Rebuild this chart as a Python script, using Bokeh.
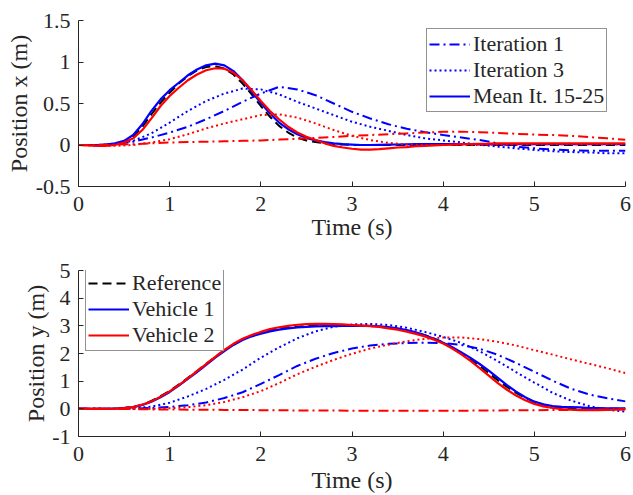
from bokeh.plotting import figure
from bokeh.layouts import column, row
from bokeh.models import Range1d, FixedTicker, CustomJSTickFormatter, Legend, LegendItem
from bokeh.embed import file_html
from bokeh.resources import INLINE

# time grids (s)
t = [round(0.2 * i, 1) for i in range(31)]        # iteration curves
tf = [round(0.1 * i, 1) for i in range(61)]       # reference and mean curves

# ---- Position x (m) ----
ref_x = [0, 0, 0, 0, 0.01, 0.04, 0.10, 0.22, 0.37, 0.51,
         0.63, 0.74, 0.83, 0.90, 0.94, 0.95, 0.92, 0.85, 0.74, 0.61,
         0.47, 0.34, 0.23, 0.15, 0.09, 0.055, 0.035, 0.02, 0.01, 0.005,
         0, 0, 0, 0, 0, 0, 0, 0, 0, 0,
         0, 0, 0, 0, 0, 0, 0, 0, 0, 0,
         0, 0, 0, 0, 0, 0, 0, 0, 0, 0, 0]
v1_mean_x = [0, 0, 0, 0.005, 0.02, 0.05, 0.12, 0.25, 0.41, 0.55,
             0.66, 0.75, 0.84, 0.91, 0.96, 0.98, 0.96, 0.89, 0.78, 0.64,
             0.51, 0.38, 0.27, 0.19, 0.13, 0.085, 0.055, 0.035, 0.02, 0.01,
             0.005, 0.0, 0.0, 0.002, 0.004, 0.006, 0.008, 0.01, 0.01, 0.01,
             0.01, 0.01, 0.01, 0.01, 0.01, 0.01, 0.01, 0.01, 0.01, 0.01,
             0.01, 0.01, 0.01, 0.01, 0.01, 0.01, 0.01, 0.01, 0.01, 0.01, 0.01]
v2_mean_x = [0, -0.005, -0.01, -0.01, 0.0, 0.03, 0.08, 0.18, 0.32, 0.47,
             0.59, 0.69, 0.78, 0.85, 0.90, 0.925, 0.92, 0.87, 0.78, 0.66,
             0.53, 0.41, 0.31, 0.22, 0.15, 0.10, 0.06, 0.02, -0.01, -0.03,
             -0.045, -0.055, -0.055, -0.05, -0.04, -0.03, -0.025, -0.015, -0.01, -0.005,
             0.0, 0.005, 0.01, 0.012, 0.015, 0.017, 0.02, 0.02, 0.02, 0.02,
             0.02, 0.02, 0.02, 0.02, 0.02, 0.02, 0.02, 0.02, 0.02, 0.02, 0.02]
v1_it1_x = [0, 0, 0.01, 0.04, 0.09, 0.15, 0.22, 0.31, 0.41, 0.52, 0.62, 0.70, 0.67, 0.60, 0.50, 0.40,
            0.32, 0.25, 0.195, 0.155, 0.12, 0.09, 0.06, 0.02, -0.02, -0.04, -0.055, -0.065, -0.07, -0.07, -0.07]
v1_it3_x = [0, 0, 0.01, 0.05, 0.14, 0.27, 0.41, 0.53, 0.62, 0.68, 0.67, 0.61, 0.52, 0.44, 0.36, 0.28,
            0.22, 0.17, 0.12, 0.08, 0.055, 0.03, 0.005, -0.02, -0.04, -0.06, -0.075, -0.085, -0.09, -0.10, -0.10]
v2_it1_x = [0, 0, 0.005, 0.01, 0.02, 0.03, 0.035, 0.04, 0.045, 0.05, 0.055, 0.065, 0.075, 0.085, 0.096, 0.11,
            0.12, 0.13, 0.14, 0.15, 0.16, 0.16, 0.155, 0.145, 0.135, 0.125, 0.12, 0.11, 0.095, 0.08, 0.064]
v2_it3_x = [0, -0.01, -0.01, 0.0, 0.03, 0.07, 0.13, 0.20, 0.26, 0.31, 0.36, 0.37, 0.33, 0.26, 0.18, 0.11,
            0.06, 0.025, 0.008, 0.0, 0.0, 0.0, 0.0, 0.005, 0.005, 0.01, 0.01, 0.01, 0.01, 0.01, 0.01]

# ---- Position y (m) ----
ref_y = [0, 0, 0, 0, 0.01, 0.03, 0.07, 0.15, 0.29, 0.46,
         0.65, 0.88, 1.12, 1.37, 1.63, 1.88, 2.12, 2.33, 2.52, 2.65,
         2.76, 2.84, 2.90, 2.94, 2.97, 2.99, 3.0, 3.0, 3.0, 3.0,
         3.0, 3.0, 2.99, 2.97, 2.93, 2.89, 2.83, 2.75, 2.66, 2.54,
         2.40, 2.22, 2.02, 1.79, 1.55, 1.29, 1.03, 0.79, 0.58, 0.40,
         0.25, 0.15, 0.08, 0.04, 0.02, 0.01, 0.0, 0.0, 0.0, 0.0, 0.0]
v1_mean_y = [0, 0, 0, 0, 0.01, 0.03, 0.06, 0.14, 0.26, 0.42,
             0.61, 0.84, 1.08, 1.33, 1.59, 1.85, 2.09, 2.31, 2.49, 2.62,
             2.72, 2.80, 2.86, 2.91, 2.94, 2.96, 2.98, 2.99, 2.99, 3.0,
             3.0, 3.0, 3.0, 2.98, 2.95, 2.91, 2.85, 2.77, 2.66, 2.53,
             2.39, 2.23, 2.04, 1.84, 1.62, 1.38, 1.12, 0.86, 0.62, 0.42,
             0.26, 0.16, 0.10, 0.07, 0.06, 0.05, 0.03, 0.03, 0.02, 0.02, 0.02]
v2_mean_y = [0, 0, 0, 0, 0.01, 0.03, 0.06, 0.15, 0.27, 0.44,
             0.63, 0.86, 1.10, 1.36, 1.62, 1.88, 2.13, 2.35, 2.53, 2.67,
             2.78, 2.88, 2.95, 3.0, 3.04, 3.06, 3.07, 3.07, 3.06, 3.05,
             3.03, 3.01, 2.99, 2.96, 2.91, 2.86, 2.79, 2.71, 2.62, 2.50,
             2.36, 2.18, 1.97, 1.73, 1.47, 1.20, 0.93, 0.69, 0.48, 0.31,
             0.18, 0.09, 0.03, -0.01, -0.03, -0.045, -0.05, -0.05, -0.04, -0.03, -0.02]
v1_it1_y = [0, 0, 0, 0.01, 0.03, 0.07, 0.13, 0.23, 0.39, 0.60, 0.90, 1.22, 1.55, 1.81, 2.02, 2.18,
            2.29, 2.35, 2.38, 2.39, 2.38, 2.31, 2.17, 1.95, 1.66, 1.34, 1.02, 0.73, 0.52, 0.38, 0.27]
v1_it3_y = [0, 0, 0, 0.02, 0.08, 0.22, 0.45, 0.72, 1.05, 1.42, 1.85, 2.22, 2.55, 2.80, 2.97, 3.05,
            3.07, 3.03, 2.93, 2.78, 2.60, 2.38, 2.08, 1.72, 1.33, 0.95, 0.58, 0.30, 0.10, -0.03, -0.10]
v2_it1_y = [0, 0, -0.01, -0.01, -0.02, -0.02, -0.03, -0.03, -0.04, -0.04, -0.05, -0.05, -0.06, -0.06, -0.06, -0.07,
            -0.07, -0.07, -0.07, -0.07, -0.07, -0.07, -0.06, -0.06, -0.05, -0.05, -0.04, -0.04, -0.03, -0.02, -0.01]
v2_it3_y = [0, 0, -0.01, -0.01, 0.0, 0.02, 0.06, 0.13, 0.25, 0.42, 0.64, 0.93, 1.25, 1.52, 1.77, 1.99,
            2.18, 2.32, 2.44, 2.53, 2.58, 2.58, 2.52, 2.42, 2.29, 2.12, 1.96, 1.79, 1.63, 1.47, 1.29]

x_ticks = [0, 1, 2, 3, 4, 5, 6]
yx_ticks = [-0.5, 0, 0.5, 1, 1.5]
yy_ticks = [-1, 0, 1, 2, 3, 4, 5]

FONT = "Liberation Serif"
AX = "#262626"
BLUE = "#0000ff"
RED = "#ff0000"
DASHDOT = "10 4 2 4"
DOT = "2 3"
DASH = "9 5"


def make_fig(height, top, bottom, ymin, ymax, yticks, ylabel, xlab_standoff, ylab_standoff):
    p = figure(width=633, height=height, x_range=Range1d(0, 6), y_range=Range1d(ymin, ymax),
               output_backend="svg", toolbar_location=None,
               min_border_left=78, min_border_right=8, min_border_top=top, min_border_bottom=bottom)
    p.xgrid.visible = False
    p.ygrid.visible = False
    p.outline_line_color = None
    fmt = CustomJSTickFormatter(code="return tick.toString();")
    for ax, ticks in ((p.xaxis[0], x_ticks), (p.yaxis[0], yticks)):
        ax.ticker = FixedTicker(ticks=ticks)
        ax.formatter = fmt
        ax.minor_tick_line_color = None
        ax.major_tick_in = 5
        ax.major_tick_out = 0
        ax.axis_line_color = AX
        ax.major_tick_line_color = AX
        ax.major_label_text_font = FONT
        ax.major_label_text_font_size = "22px"
        ax.major_label_text_color = AX
        ax.axis_label_text_font = FONT
        ax.axis_label_text_font_size = "24px"
        ax.axis_label_text_font_style = "normal"
        ax.axis_label_text_color = AX
    p.xaxis.major_label_standoff = 10
    p.xaxis.axis_label_standoff = xlab_standoff
    p.yaxis.major_label_standoff = 8
    p.yaxis.axis_label_standoff = ylab_standoff
    p.xaxis.axis_label = "Time (s)"
    p.yaxis.axis_label = ylabel
    return p


def style_legend(lg):
    lg.label_text_font = FONT
    lg.label_text_font_size = "22px"
    lg.label_text_color = AX
    lg.glyph_width = 41
    lg.glyph_height = 20
    lg.label_standoff = 3
    lg.spacing = 0
    lg.padding = 2
    lg.margin = 0
    lg.border_line_color = AX
    lg.border_line_width = 1
    lg.background_fill_alpha = 1


# ---- top panel ----
p1 = make_fig(250, 20, 64, -0.5, 1.5, yx_ticks, "Position x (m)", 0, 1)
p1.line(tf, ref_x, line_color="black", line_width=2, line_dash=DASH)
a1 = p1.line(t, v1_it1_x, line_color=BLUE, line_width=2, line_dash=DASHDOT)
a3 = p1.line(t, v1_it3_x, line_color=BLUE, line_width=2, line_dash=DOT)
am = p1.line(tf, v1_mean_x, line_color=BLUE, line_width=2.2)
p1.line(t, v2_it1_x, line_color=RED, line_width=2, line_dash=DASHDOT)
p1.line(t, v2_it3_x, line_color=RED, line_width=2, line_dash=DOT)
p1.line(tf, v2_mean_x, line_color=RED, line_width=2.2)
lg1 = Legend(items=[LegendItem(label="Iteration 1", renderers=[a1]),
                    LegendItem(label="Iteration 3", renderers=[a3]),
                    LegendItem(label="Mean It. 15-25", renderers=[am])],
             location=(348, 74))
style_legend(lg1)
p1.add_layout(lg1)

# ---- bottom panel ----
p2 = make_fig(245, 20, 58, -1, 5, yy_ticks, "Position y (m)", 3, 0)
br = p2.line(tf, ref_y, line_color="black", line_width=2, line_dash=DASH)
p2.line(t, v1_it1_y, line_color=BLUE, line_width=2, line_dash=DASHDOT)
p2.line(t, v1_it3_y, line_color=BLUE, line_width=2, line_dash=DOT)
b1 = p2.line(tf, v1_mean_y, line_color=BLUE, line_width=2.2)
p2.line(t, v2_it1_y, line_color=RED, line_width=2, line_dash=DASHDOT)
p2.line(t, v2_it3_y, line_color=RED, line_width=2, line_dash=DOT)
b2 = p2.line(tf, v2_mean_y, line_color=RED, line_width=2.2)
lg2 = Legend(items=[LegendItem(label="Reference", renderers=[br]),
                    LegendItem(label="Vehicle 1", renderers=[b1]),
                    LegendItem(label="Vehicle 2", renderers=[b2])],
             location=(7, 85))
style_legend(lg2)
p2.add_layout(lg2)

# wrap each panel separately so the two panels' axis areas are laid out independently
layout = column(row(p1, spacing=0), row(p2, spacing=0), spacing=0)
open("out.html", "w").write(file_html(layout, INLINE))
